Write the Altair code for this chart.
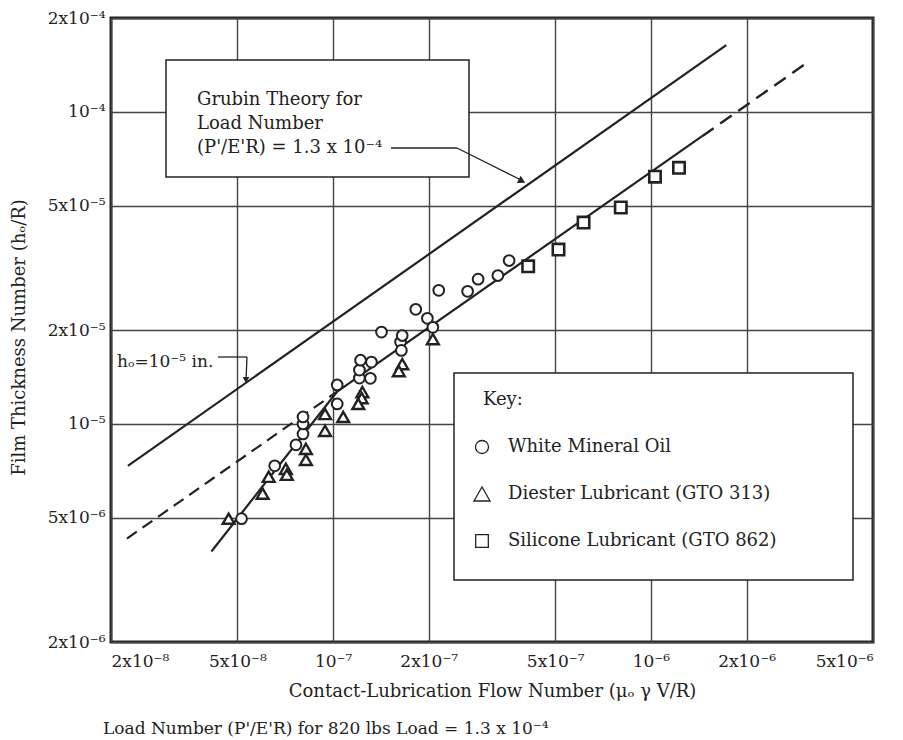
import altair as alt
import pandas as pd

# ---------------- data ----------------
# White Mineral Oil (circles)
oil_x = [5.15e-8, 6.55e-8, 7.64e-8, 8.04e-8, 8.04e-8, 8.04e-8, 1.03e-7, 1.03e-7,
         1.21e-7, 1.31e-7, 1.21e-7, 1.22e-7, 1.32e-7, 1.42e-7, 1.63e-7, 1.64e-7,
         1.65e-7, 1.82e-7, 1.98e-7, 2.06e-7, 2.15e-7, 2.65e-7, 2.86e-7, 3.30e-7, 3.58e-7]
oil_y = [4.97e-6, 7.34e-6, 8.57e-6, 9.29e-6, 1.00e-5, 1.053e-5, 1.159e-5, 1.333e-5,
         1.403e-5, 1.40e-5, 1.488e-5, 1.60e-5, 1.578e-5, 1.97e-5, 1.83e-5, 1.72e-5,
         1.92e-5, 2.33e-5, 2.18e-5, 2.04e-5, 2.68e-5, 2.66e-5, 2.91e-5, 2.99e-5, 3.34e-5]

# Diester Lubricant GTO 313 (triangles)
diester_x = [4.69e-8, 6.0e-8, 6.27e-8, 7.10e-8, 7.15e-8, 8.21e-8, 8.21e-8, 9.43e-8,
             1.076e-7, 9.43e-8, 1.236e-7, 1.23e-7, 1.20e-7, 1.65e-7, 1.61e-7, 2.06e-7]
diester_y = [4.97e-6, 5.98e-6, 6.77e-6, 7.18e-6, 6.87e-6, 8.32e-6, 7.67e-6, 1.076e-5,
             1.053e-5, 9.50e-6, 1.265e-5, 1.21e-5, 1.159e-5, 1.555e-5, 1.477e-5, 1.87e-5]

# Silicone Lubricant GTO 862 (squares)
silicone_x = [4.11e-7, 5.12e-7, 6.14e-7, 8.04e-7, 1.03e-6, 1.226e-6]
silicone_y = [3.20e-5, 3.62e-5, 4.42e-5, 4.94e-5, 6.20e-5, 6.62e-5]

# Grubin theory line
grubin_x = [2.26e-8, 1.727e-6]
grubin_y = [7.34e-6, 1.637e-4]

# Experimental fit line: dashed / solid / dashed parts
fit_left_x = [2.245e-8, 1.03e-7]
fit_left_y = [4.29e-6, 1.27e-5]
fit_mid_x = [1.03e-7, 1.45e-6]
fit_mid_y = [1.27e-5, 8.36e-5]
fit_right_x = [1.45e-6, 3.09e-6]
fit_right_y = [8.36e-5, 1.434e-4]

# Steep low-speed line
steep_x = [4.14e-8, 1.03e-7]
steep_y = [3.90e-6, 1.27e-5]

# Axes
x_ticks = [2e-8, 5e-8, 1e-7, 2e-7, 5e-7, 1e-6, 2e-6, 5e-6]
x_labels = ["2x10⁻⁸", "5x10⁻⁸", "10⁻⁷", "2x10⁻⁷", "5x10⁻⁷", "10⁻⁶", "2x10⁻⁶", "5x10⁻⁶"]
y_ticks = [2e-6, 5e-6, 1e-5, 2e-5, 5e-5, 1e-4, 2e-4]
y_labels = ["2x10⁻⁶", "5x10⁻⁶", "10⁻⁵", "2x10⁻⁵", "5x10⁻⁵", "10⁻⁴", "2x10⁻⁴"]

x_title = "Contact-Lubrication Flow Number (μₒ γ V/R)"
y_title = "Film Thickness Number (hₒ/R)"
note = "Load Number (P'/E'R) for 820 lbs Load = 1.3 x 10⁻⁴"
grubin_text = ["Grubin Theory for", "Load Number", "(P'/E'R) = 1.3 x 10⁻⁴"]
h_text = "hₒ=10⁻⁵ in."
key_title = "Key:"
key_labels = ["White Mineral Oil", "Diester Lubricant (GTO 313)", "Silicone Lubricant (GTO 862)"]

# ---------------- styling ----------------
FONT = "DejaVu Serif"
INK = "#222222"
W, H = 762, 624
TXT = 18


def label_expr(vals, labels):
    expr = "''"
    for v, l in list(zip(vals, labels))[::-1]:
        expr = f"(abs(datum.value - {v!r}) < {v * 1e-3!r}) ? '{l}' : ({expr})"
    return expr


xscale = alt.Scale(type="log", domain=[2e-8, 5e-6], nice=False)
yscale = alt.Scale(type="log", domain=[2e-6, 2e-4], nice=False)

xaxis = alt.Axis(values=x_ticks, labelExpr=label_expr(x_ticks, x_labels), title=x_title,
                 grid=True, gridColor="#444444", gridWidth=1.4, ticks=False, domain=False,
                 labelFont=FONT, labelFontSize=17, labelColor=INK, labelPadding=11,
                 labelFlush=True, labelOverlap=False,
                 titleFont=FONT, titleFontSize=18, titleFontWeight="normal", titleColor=INK,
                 titleY=49, titleBaseline="middle")
yaxis = alt.Axis(values=y_ticks, labelExpr=label_expr(y_ticks, y_labels), title=y_title,
                 grid=True, gridColor="#444444", gridWidth=1.4, ticks=False, domain=False,
                 labelFont=FONT, labelFontSize=17, labelColor=INK, labelPadding=6,
                 labelOverlap=False,
                 titleFont=FONT, titleFontSize=18, titleFontWeight="normal", titleColor=INK,
                 titleX=-92, titleY=319, titleAngle=270, titleBaseline="middle", titleAlign="center")

X = alt.X("x:Q", scale=xscale, axis=xaxis)
Y = alt.Y("y:Q", scale=yscale, axis=yaxis)


def df(xs, ys):
    return pd.DataFrame({"x": xs, "y": ys})


dummy = pd.DataFrame({"d": [0]})

layers = []

# lines
layers.append(alt.Chart(df(grubin_x, grubin_y)).mark_line(color=INK, strokeWidth=2.2).encode(x=X, y=Y))
layers.append(alt.Chart(df(fit_left_x, fit_left_y)).mark_line(color=INK, strokeWidth=2.2, strokeDash=[12, 7]).encode(x=X, y=Y))
layers.append(alt.Chart(df(fit_mid_x, fit_mid_y)).mark_line(color=INK, strokeWidth=2.2).encode(x=X, y=Y))
layers.append(alt.Chart(df(fit_right_x, fit_right_y)).mark_line(color=INK, strokeWidth=2.4, strokeDash=[14, 8]).encode(x=X, y=Y))
layers.append(alt.Chart(df(steep_x, steep_y)).mark_line(color=INK, strokeWidth=2.2).encode(x=X, y=Y))

# data points
layers.append(alt.Chart(df(oil_x, oil_y)).mark_point(shape="circle", filled=True, fill="white", stroke=INK,
                                                     strokeWidth=2, size=115, opacity=1).encode(x=X, y=Y))
layers.append(alt.Chart(df(diester_x, diester_y)).mark_point(shape="triangle-up", filled=True, fill="white", stroke=INK,
                                                           strokeWidth=2.4, size=140, opacity=1).encode(x=X, y=Y))
layers.append(alt.Chart(df(silicone_x, silicone_y)).mark_point(shape="square", filled=True, fill="white", stroke=INK,
                                                             strokeWidth=2.6, size=130, opacity=1).encode(x=X, y=Y))

# Grubin annotation box
layers.append(alt.Chart(dummy).mark_rect(fill="white", stroke=INK, strokeWidth=1.5).encode(
    x=alt.value(55), x2=alt.value(358), y=alt.value(42), y2=alt.value(159)))
for i, t in enumerate(grubin_text):
    layers.append(alt.Chart(dummy).mark_text(align="left", baseline="middle", font=FONT, fontSize=TXT, color=INK).encode(
        x=alt.value(86), y=alt.value(82 + 24 * i), text=alt.value(t)))
layers.append(alt.Chart(dummy).mark_rule(color=INK, strokeWidth=1.3).encode(
    x=alt.value(280), x2=alt.value(346), y=alt.value(130), y2=alt.value(130)))
layers.append(alt.Chart(dummy).mark_rule(color=INK, strokeWidth=1.3).encode(
    x=alt.value(346), x2=alt.value(412), y=alt.value(130), y2=alt.value(163)))
layers.append(alt.Chart(dummy).mark_point(shape="triangle-up", filled=True, color=INK, size=70, angle=117, opacity=1).encode(
    x=alt.value(411), y=alt.value(163)))

# h_o annotation
layers.append(alt.Chart(dummy).mark_text(align="left", baseline="middle", font=FONT, fontSize=17, color=INK).encode(
    x=alt.value(6), y=alt.value(344), text=alt.value(h_text)))
layers.append(alt.Chart(dummy).mark_rule(color=INK, strokeWidth=1.3).encode(
    x=alt.value(107), x2=alt.value(136), y=alt.value(339), y2=alt.value(339)))
layers.append(alt.Chart(dummy).mark_rule(color=INK, strokeWidth=1.3).encode(
    x=alt.value(136), x2=alt.value(135), y=alt.value(339), y2=alt.value(362)))
layers.append(alt.Chart(dummy).mark_point(shape="triangle-down", filled=True, color=INK, size=45, opacity=1).encode(
    x=alt.value(135), y=alt.value(362)))

# Key box
layers.append(alt.Chart(dummy).mark_rect(fill="white", stroke=INK, strokeWidth=1.5).encode(
    x=alt.value(343), x2=alt.value(742), y=alt.value(355), y2=alt.value(562)))
layers.append(alt.Chart(dummy).mark_text(align="left", baseline="middle", font=FONT, fontSize=TXT, color=INK).encode(
    x=alt.value(372), y=alt.value(382), text=alt.value(key_title)))
key_shapes = ["circle", "triangle-up", "square"]
key_sizes = [170, 260, 160]
for i, (shp, sz, lab) in enumerate(zip(key_shapes, key_sizes, key_labels)):
    yy = 429 + 47 * i
    layers.append(alt.Chart(dummy).mark_point(shape=shp, filled=False, color=INK, strokeWidth=1.3, size=sz, opacity=1).encode(
        x=alt.value(371), y=alt.value(yy)))
    layers.append(alt.Chart(dummy).mark_text(align="left", baseline="middle", font=FONT, fontSize=TXT, color=INK).encode(
        x=alt.value(397), y=alt.value(yy), text=alt.value(lab)))

# bottom note
layers.append(alt.Chart(dummy).mark_text(align="left", baseline="middle", font=FONT, fontSize=17, color=INK).encode(
    x=alt.value(-8), y=alt.value(711), text=alt.value(note)))

chart = alt.layer(*layers).properties(
    width=W, height=H,
    autosize=alt.AutoSizeParams(type="none"),
    padding={"left": 111, "top": 18, "right": 30, "bottom": 98},
    background="white",
).configure_view(stroke=INK, strokeWidth=3)

chart.save("out.html", embed_options={"renderer": "svg", "actions": False})
